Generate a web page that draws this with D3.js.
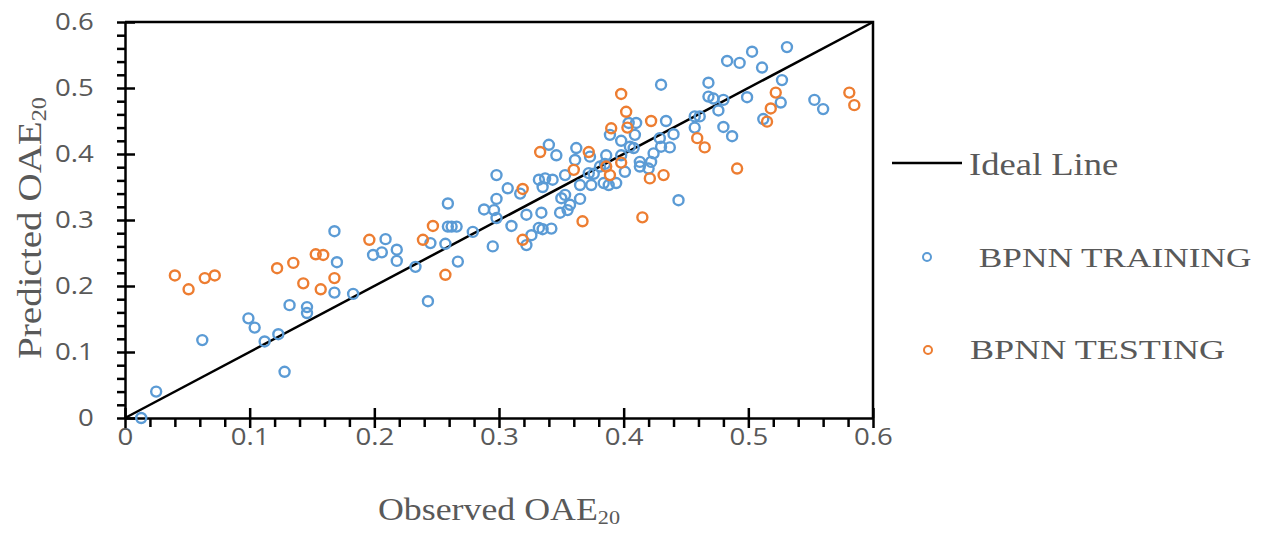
<!DOCTYPE html>
<html>
<head>
<meta charset="utf-8">
<script src="https://cdn.jsdelivr.net/npm/d3@7"></script>
<style>
  body { margin: 0; background: #fff; }
</style>
</head>
<body>
<div id="chart"></div>
<script>

// Observed vs predicted values
const trainObserved = [0.013, 0.025, 0.062, 0.099, 0.104, 0.112, 0.123, 0.128, 0.132, 0.146, 0.146, 0.168, 0.170, 0.168, 0.183,
    0.199, 0.206, 0.209, 0.218, 0.218, 0.233, 0.243, 0.245, 0.259, 0.259, 0.262, 0.266, 0.257, 0.267, 0.279,
    0.288, 0.296, 0.298, 0.298, 0.298, 0.307, 0.310, 0.295, 0.317, 0.322, 0.322, 0.326, 0.332, 0.332, 0.334,
    0.335, 0.342, 0.349, 0.355, 0.357, 0.350, 0.353, 0.365, 0.483, 0.430, 0.468, 0.468, 0.472, 0.480, 0.476,
    0.457, 0.461, 0.457, 0.480, 0.487, 0.434, 0.440, 0.429, 0.430, 0.437, 0.424, 0.422, 0.444, 0.404, 0.410,
    0.389, 0.398, 0.409, 0.405, 0.408, 0.398, 0.386, 0.385, 0.401, 0.413, 0.413, 0.420, 0.394, 0.384, 0.388,
    0.373, 0.362, 0.361, 0.372, 0.376, 0.365, 0.374, 0.353, 0.343, 0.337, 0.335, 0.340, 0.346, 0.381, 0.531,
    0.503, 0.493, 0.511, 0.527, 0.499, 0.526, 0.553, 0.560, 0.512];
const trainPredicted = [0.000, 0.040, 0.118, 0.151, 0.137, 0.116, 0.127, 0.070, 0.171, 0.168, 0.159, 0.283, 0.236, 0.190, 0.188,
    0.247, 0.251, 0.271, 0.255, 0.238, 0.229, 0.177, 0.265, 0.325, 0.290, 0.290, 0.290, 0.264, 0.237, 0.282,
    0.316, 0.315, 0.332, 0.303, 0.368, 0.348, 0.291, 0.260, 0.340, 0.308, 0.262, 0.277, 0.361, 0.288, 0.311,
    0.286, 0.287, 0.311, 0.315, 0.323, 0.333, 0.338, 0.332, 0.541, 0.505, 0.508, 0.487, 0.484, 0.482, 0.466,
    0.457, 0.457, 0.440, 0.441, 0.427, 0.450, 0.430, 0.424, 0.411, 0.410, 0.401, 0.388, 0.330, 0.447, 0.447,
    0.429, 0.420, 0.429, 0.411, 0.409, 0.398, 0.398, 0.385, 0.373, 0.388, 0.381, 0.378, 0.356, 0.356, 0.353,
    0.396, 0.409, 0.391, 0.371, 0.370, 0.353, 0.353, 0.368, 0.361, 0.363, 0.350, 0.414, 0.398, 0.381, 0.562,
    0.555, 0.538, 0.531, 0.512, 0.486, 0.478, 0.482, 0.468, 0.453];

const testObserved = [0.040, 0.051, 0.064, 0.072, 0.122, 0.135, 0.143, 0.153, 0.159, 0.157, 0.168, 0.196, 0.239, 0.247,
    0.257, 0.319, 0.319, 0.333, 0.367, 0.415, 0.398, 0.402, 0.459, 0.465, 0.491, 0.422, 0.390, 0.403, 0.386,
    0.398, 0.389, 0.372, 0.360, 0.421, 0.432, 0.522, 0.518, 0.581, 0.585, 0.515];
const testPredicted = [0.216, 0.195, 0.212, 0.216, 0.227, 0.235, 0.204, 0.248, 0.247, 0.195, 0.212, 0.270, 0.270, 0.291,
    0.217, 0.347, 0.270, 0.403, 0.298, 0.304, 0.491, 0.464, 0.424, 0.410, 0.378, 0.450, 0.439, 0.440, 0.381,
    0.387, 0.368, 0.403, 0.376, 0.363, 0.368, 0.493, 0.469, 0.493, 0.474, 0.449];

const idealLine = [[0, 0], [0.6, 0.6]];
const axisTicks = [0, 0.1, 0.2, 0.3, 0.4, 0.5, 0.6];
const minorStep = 0.02;

const seriesNames = ["Ideal Line", " BPNN TRAINING", "BPNN TESTING"];
const colors = { train: "#5b9bd5", test: "#ed7d31" };

const width = 1261;
const height = 533;
const textGrey = "#595959";

const svg = d3.select("#chart")
    .append("svg")
    .attr("width", width)
    .attr("height", height);

svg.append("rect")
    .attr("width", width)
    .attr("height", height)
    .attr("fill", "white");

// Scales
const x = d3.scaleLinear().domain([0, 0.6]).range([125, 873]);
const y = d3.scaleLinear().domain([0, 0.6]).range([418, 22]);

const minorTicks = d3.range(0, 31).map(i => +(i * minorStep).toFixed(2));
const isMajor = d => axisTicks.some(t => Math.abs(t - d) < 1e-9);
const fmt = d => d === 0 ? "0" : d3.format(".1f")(d);

// X axis
const gx = svg.append("g")
    .attr("transform", `translate(0,${y(0)})`)
    .call(d3.axisBottom(x)
        .tickValues(minorTicks)
        .tickSize(9)
        .tickSizeOuter(0)
        .tickPadding(2)
        .tickFormat(d => isMajor(d) ? fmt(d) : ""));

gx.selectAll(".tick line")
    .attr("stroke", "black")
    .attr("stroke-width", 2.5)
    .filter(d => isMajor(d))
    .attr("y1", -10)
    .attr("y2", 10);

// Y axis
const gy = svg.append("g")
    .attr("transform", `translate(${x(0)},0)`)
    .call(d3.axisLeft(y)
        .tickValues(minorTicks)
        .tickSize(8)
        .tickSizeOuter(0)
        .tickPadding(18)
        .tickFormat(d => isMajor(d) ? fmt(d) : ""));

gy.selectAll(".tick line")
    .attr("stroke", "black")
    .attr("stroke-width", 2.5)
    .filter(d => isMajor(d))
    .attr("x1", 10);

svg.selectAll(".domain")
    .attr("stroke", "black")
    .attr("stroke-width", 2.5);

// tick labels are drawn a little wide, like the original
svg.selectAll(".tick text")
    .attr("fill", textGrey)
    .attr("font-family", "Open Sans")
    .attr("font-size", 23)
    .attr("transform", "scale(1.2,1)");

// Top and right frame
svg.append("path")
    .attr("fill", "none")
    .attr("stroke", "black")
    .attr("stroke-width", 2.5)
    .attr("d", `M${x(0)},${y(0.6)}H${x(0.6)}V${y(0)}`);

// Ideal line
svg.append("path")
    .attr("fill", "none")
    .attr("stroke", "black")
    .attr("stroke-width", 2.5)
    .attr("d", d3.line().x(d => x(d[0])).y(d => y(d[1]))(idealLine));

// Training points
svg.append("g")
    .selectAll("circle")
    .data(d3.zip(trainObserved, trainPredicted))
    .join("circle")
    .attr("cx", d => x(d[0]))
    .attr("cy", d => y(d[1]))
    .attr("r", 5)
    .attr("fill", "none")
    .attr("stroke", colors.train)
    .attr("stroke-width", 2.4);

// Testing points
svg.append("g")
    .selectAll("circle")
    .data(d3.zip(testObserved, testPredicted))
    .join("circle")
    .attr("cx", d => x(d[0]))
    .attr("cy", d => y(d[1]))
    .attr("r", 5)
    .attr("fill", "none")
    .attr("stroke", colors.test)
    .attr("stroke-width", 2.4);

// Axis titles
function title(g, label, size) {
    const t = g.append("text")
        .attr("text-anchor", "middle")
        .attr("fill", textGrey)
        .style("font-family", "Liberation Serif")
        .style("font-size", size + "px");
    t.append("tspan").text(label);
    t.append("tspan")
        .attr("dy", "0.22em")
        .style("font-size", (size * 0.62) + "px")
        .text("20");
    return t;
}

title(svg.append("g").attr("transform", "translate(499,520) scale(1.12,1)"), "Observed OAE", 32);
title(svg.append("g").attr("transform", "translate(41,228) rotate(-90) scale(1.15,1)"), "Predicted OAE", 34);

// Legend
const legend = svg.append("g")
    .style("font-family", "Liberation Serif")
    .attr("fill", textGrey);

legend.append("line")
    .attr("x1", 892).attr("x2", 962)
    .attr("y1", 163).attr("y2", 163)
    .attr("stroke", "black")
    .attr("stroke-width", 2.5);

legend.append("g")
    .attr("transform", "translate(969,175) scale(1.18,1)")
    .append("text")
    .style("font-size", "31px")
    .text(seriesNames[0]);

legend.append("circle")
    .attr("cx", 927).attr("cy", 257)
    .attr("r", 4)
    .attr("fill", "none")
    .attr("stroke", colors.train)
    .attr("stroke-width", 2);

legend.append("g")
    .attr("transform", "translate(970,267) scale(1.26,1)")
    .append("text")
    .style("font-size", "28px")
    .style("white-space", "pre")
    .text(seriesNames[1]);

legend.append("circle")
    .attr("cx", 928).attr("cy", 350)
    .attr("r", 4)
    .attr("fill", "none")
    .attr("stroke", colors.test)
    .attr("stroke-width", 2);

legend.append("g")
    .attr("transform", "translate(970,359) scale(1.29,1)")
    .append("text")
    .style("font-size", "28px")
    .text(seriesNames[2]);

</script>
</body>
</html>
